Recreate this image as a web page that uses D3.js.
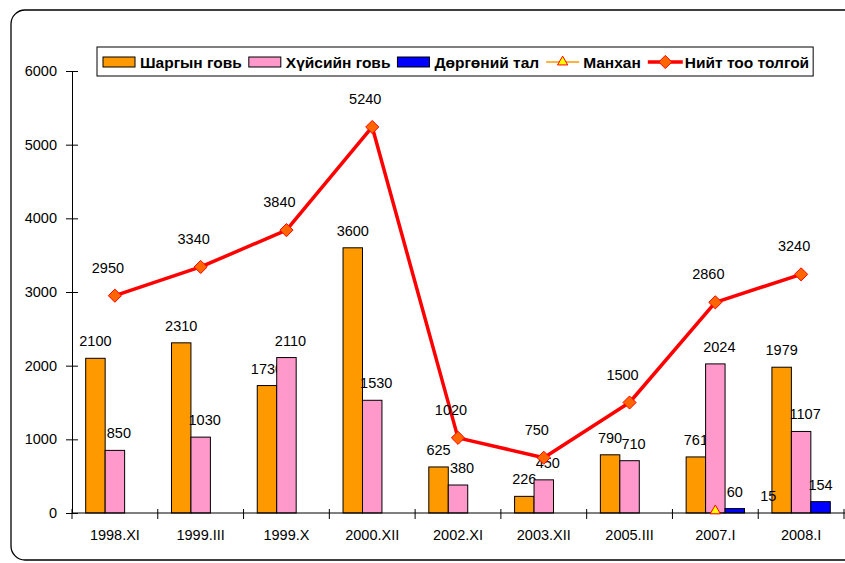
<!DOCTYPE html>
<html>
<head>
<meta charset="utf-8">
<script src="https://cdn.jsdelivr.net/npm/d3@7"></script>
<style>
  body { margin: 0; background: #fff; }
  text { font-family: "Liberation Sans", Arial, sans-serif; }
</style>
</head>
<body>
<div id="chart"></div>
<script>
var width = 845, height = 563;

// data
var periods = ["1998.XI", "1999.III", "1999.X", "2000.XII", "2002.XI", "2003.XII", "2005.III", "2007.I", "2008.I"];
var shargyn = [2100, 2310, 1730, 3600, 625, 226, 790, 761, 1979];
var khuisiin = [850, 1030, 2110, 1530, 380, 450, 710, 2024, 1107];
var dorgon = [null, null, null, null, null, null, null, 60, 154];
var mankhan = [null, null, null, null, null, null, null, 15, null];
var total = [2950, 3340, 3840, 5240, 1020, 750, 1500, 2860, 3240];
var yTicks = [0, 1000, 2000, 3000, 4000, 5000, 6000];

var barNames = ["Шаргын говь", "Хүйсийн говь", "Дөргөний тал"];
var barColors = ["#FF9900", "#FF99CC", "#0000FF"];
var barValues = [shargyn, khuisiin, dorgon];

var font = "'Liberation Sans', Arial, sans-serif";

var svg = d3.select("#chart").append("svg")
    .attr("width", width)
    .attr("height", height);

// outer frame with rounded corners
svg.append("rect")
    .attr("x", 11).attr("y", 10)
    .attr("width", 850).attr("height", 550)
    .attr("rx", 14)
    .attr("fill", "none")
    .attr("stroke", "#000")
    .attr("stroke-width", 1.3);

var x0 = d3.scaleBand()
    .domain(periods)
    .range([72, 844]);

var x1 = d3.scaleBand()
    .domain(barNames)
    .range([13.7, x0.bandwidth() - 13.7]);

var y = d3.scaleLinear()
    .domain([0, 6000])
    .range([513, 71]);

// bars
barNames.forEach(function(name, s) {
  var rows = periods.map(function(p, i) { return {p: p, v: barValues[s][i]}; })
      .filter(function(d) { return d.v != null; });

  svg.selectAll(".bar" + s)
    .data(rows)
    .enter().append("rect")
      .attr("x", function(d) { return x0(d.p) + x1(name); })
      .attr("y", function(d) { return y(d.v); })
      .attr("width", x1.bandwidth())
      .attr("height", function(d) { return y(0) - y(d.v); })
      .attr("fill", barColors[s])
      .attr("stroke", "#000")
      .attr("stroke-width", 1);

  svg.selectAll(".barlabel" + s)
    .data(rows)
    .enter().append("text")
      .attr("x", function(d) { return x0(d.p) + x1(name) + x1.bandwidth() / 2 + (s == 1 ? 4 : 0); })
      .attr("y", function(d) { return y(d.v) - 12; })
      .attr("text-anchor", "middle")
      .style("font-size", "14.5px")
      .text(function(d) { return d.v; });
});

// axes
var yAxis = svg.append("g")
    .attr("transform", "translate(72,0)")
    .call(d3.axisLeft(y).tickValues(yTicks).tickFormat(d3.format("d")).tickSize(0).tickPadding(15));
yAxis.select(".domain").attr("stroke", "#000");
yAxis.selectAll(".tick text").style("font-size", "14.5px").attr("fill", "#000")
    .style("font-family", font);
yAxis.selectAll(".tick").append("line")
    .attr("x1", -6).attr("x2", 6).attr("stroke", "#000");

var xAxis = svg.append("g")
    .attr("transform", "translate(0," + y(0) + ")")
    .call(d3.axisBottom(x0).tickSize(0).tickPadding(17));
xAxis.select(".domain").remove();
xAxis.append("line").attr("x1", 72).attr("x2", 845).attr("stroke", "#000");
xAxis.selectAll(".tick text").style("font-size", "14.5px").attr("fill", "#000")
    .style("font-family", font);
var edges = periods.map(function(p) { return x0(p); }).concat([x0.range()[1]]);
xAxis.selectAll(".edge")
  .data(edges)
  .enter().append("line")
    .attr("x1", function(d) { return d; })
    .attr("x2", function(d) { return d; })
    .attr("y1", -4).attr("y2", 6)
    .attr("stroke", "#000");

// total line
var cx = function(i) { return x0(periods[i]) + x0.bandwidth() / 2; };
var line = d3.line()
    .x(function(d, i) { return cx(i); })
    .y(function(d) { return y(d); });

svg.append("path")
    .datum(total)
    .attr("d", line)
    .attr("fill", "none")
    .attr("stroke", "#FF0000")
    .attr("stroke-width", 3.5)
    .attr("stroke-linejoin", "round");

var diamond = d3.symbol().type(d3.symbolDiamond2).size(110);
svg.selectAll(".tot")
  .data(total)
  .enter().append("path")
    .attr("d", diamond)
    .attr("transform", function(d, i) { return "translate(" + cx(i) + "," + y(d) + ")"; })
    .attr("fill", "#FF6600")
    .attr("stroke", "#FF0000")
    .attr("stroke-width", 1);

svg.selectAll(".totlabel")
  .data(total)
  .enter().append("text")
    .attr("x", function(d, i) { return cx(i) - 7; })
    .attr("y", function(d) { return y(d) - 23; })
    .attr("text-anchor", "middle")
    .style("font-size", "14.5px")
    .text(function(d) { return d; });

// Манхан marker
var tri = d3.symbol().type(d3.symbolTriangle).size(45);
var mRows = periods.map(function(p, i) { return {i: i, v: mankhan[i]}; })
    .filter(function(d) { return d.v != null; });
svg.selectAll(".man")
  .data(mRows)
  .enter().append("path")
    .attr("d", tri)
    .attr("transform", function(d) { return "translate(" + cx(d.i) + "," + (y(d.v) - 1) + ")"; })
    .attr("fill", "#FFFF00")
    .attr("stroke", "#FF0000")
    .attr("stroke-width", 1);
svg.selectAll(".manlabel")
  .data(mRows)
  .enter().append("text")
    .attr("x", function(d) { return cx(d.i) + 53; })
    .attr("y", function(d) { return y(d.v) - 11; })
    .attr("text-anchor", "middle")
    .style("font-size", "14.5px")
    .text(function(d) { return d.v; });

// legend
var legend = svg.append("g");
var legendBox = legend.append("rect")
    .attr("x", 97).attr("y", 47)
    .attr("height", 29)
    .attr("fill", "#fff")
    .attr("stroke", "#000")
    .attr("stroke-width", 1);

var legendItems = [
  {name: "Шаргын говь", type: "bar", color: barColors[0]},
  {name: "Хүйсийн говь", type: "bar", color: barColors[1]},
  {name: "Дөргөний тал", type: "bar", color: barColors[2]},
  {name: "Манхан", type: "tri", color: "#FF9900"},
  {name: "Нийт тоо толгой", type: "dia", color: "#FF0000"}
];

var lx = 103, ly = 62;
legendItems.forEach(function(d) {
  if (d.type == "bar") {
    legend.append("rect")
      .attr("x", lx).attr("y", ly - 5)
      .attr("width", 32).attr("height", 10)
      .attr("fill", d.color)
      .attr("stroke", "#000");
  } else if (d.type == "tri") {
    legend.append("line")
      .attr("x1", lx).attr("x2", lx + 33)
      .attr("y1", ly).attr("y2", ly)
      .attr("stroke", d.color).attr("stroke-width", 1.5);
    legend.append("path")
      .attr("d", tri)
      .attr("transform", "translate(" + (lx + 16.5) + "," + ly + ")")
      .attr("fill", "#FFFF00").attr("stroke", "#FF0000");
  } else {
    legend.append("line")
      .attr("x1", lx).attr("x2", lx + 35)
      .attr("y1", ly).attr("y2", ly)
      .attr("stroke", d.color).attr("stroke-width", 3.5);
    legend.append("path")
      .attr("d", diamond)
      .attr("transform", "translate(" + (lx + 17.5) + "," + ly + ")")
      .attr("fill", "#FF6600").attr("stroke", "#FF0000");
  }
  var t = legend.append("text")
    .attr("x", lx + 37)
    .attr("y", ly + 5.5)
    .style("font-size", "15.5px")
    .style("font-weight", "bold")
    .text(d.name);
  lx += 37 + t.node().getComputedTextLength() + 7;
});
legendBox.attr("width", lx - 97 - 3);
</script>
</body>
</html>
